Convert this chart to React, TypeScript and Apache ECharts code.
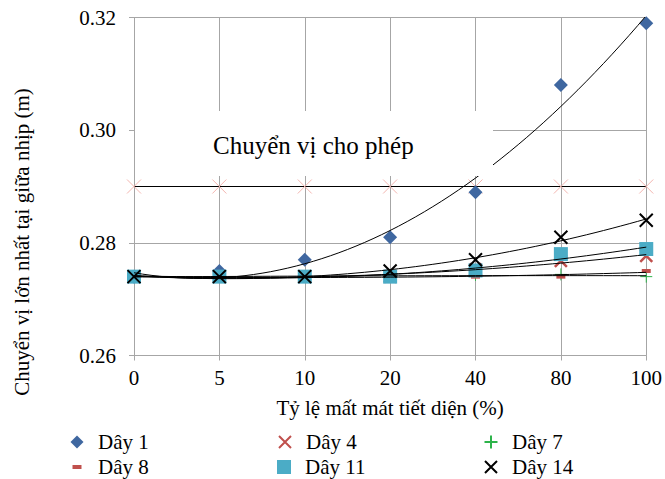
import React, { useEffect, useRef } from 'react';
import * as echarts from 'echarts';

const categories = ['0', '5', '10', '20', '40', '80', '100'];
const day1 = [0.274, 0.275, 0.277, 0.281, 0.289, 0.308, 0.319];
const day4 = [0.274, 0.274, 0.274, 0.274, 0.2753, 0.2768, 0.2777];
const day7 = [0.274, 0.274, 0.274, 0.274, 0.2743, 0.2744, 0.274];
const day8 = [0.274, 0.274, 0.274, 0.274, 0.274, 0.274, 0.275];
const day11 = [0.274, 0.274, 0.274, 0.274, 0.2751, 0.278, 0.2789];
const day14 = [0.274, 0.274, 0.274, 0.275, 0.277, 0.281, 0.284];
const allowable = [0.29, 0.29, 0.29, 0.29, 0.29, 0.29, 0.29];
const allowableLabel = 'Chuyển vị cho phép';
const xTitle = 'Tỷ lệ mất mát tiết diện (%)';
const yTitle = 'Chuyển vị lớn nhất tại giữa nhịp (m)';

const FONT = 'Liberation Serif';
const X_PATH = 'path://M0,0L10,10M10,0L0,10';
const PLUS_PATH = 'path://M5,0L5,10M0,5L10,5';

// least-squares quadratic trendline (as the spreadsheet's polynomial trendline)
function quadFit(ys: number[]) {
  const n = ys.length;
  const S = [0, 0, 0, 0, 0];
  const T = [0, 0, 0];
  for (let i = 0; i < n; i++) {
    for (let k = 0; k < 5; k++) S[k] += Math.pow(i, k);
    for (let k = 0; k < 3; k++) T[k] += ys[i] * Math.pow(i, k);
  }
  const A = [
    [S[0], S[1], S[2], T[0]],
    [S[1], S[2], S[3], T[1]],
    [S[2], S[3], S[4], T[2]],
  ];
  for (let c = 0; c < 3; c++) {
    for (let r = c + 1; r < 3; r++) {
      const f = A[r][c] / A[c][c];
      for (let k = c; k < 4; k++) A[r][k] -= f * A[c][k];
    }
  }
  const coef = [0, 0, 0];
  for (let r = 2; r >= 0; r--) {
    let s = A[r][3];
    for (let k = r + 1; k < 3; k++) s -= A[r][k] * coef[k];
    coef[r] = s / A[r][r];
  }
  const pts: number[][] = [];
  for (let j = 0; j <= 60; j++) {
    const x = j / 10;
    pts.push([x, coef[0] + coef[1] * x + coef[2] * x * x]);
  }
  return pts;
}

const toPts = (ys: number[]) => ys.map((v, i) => [i, v]);

type SeriesDef = { name: string; data: number[]; symbol: string; size: any; legendSize: number; color: string; border: number };
const defs: SeriesDef[] = [
  { name: 'Dây 1', data: day1, symbol: 'diamond', size: 14, legendSize: 13, color: '#3F67A0', border: 0 },
  { name: 'Dây 4', data: day4, symbol: X_PATH, size: 12, legendSize: 12, color: '#C0504D', border: 2.5 },
  { name: 'Dây 7', data: day7, symbol: PLUS_PATH, size: 12, legendSize: 13, color: '#2DB34A', border: 1 },
  { name: 'Dây 8', data: day8, symbol: 'rect', size: [9, 4], legendSize: 9, color: '#C0504D', border: 0 },
  { name: 'Dây 11', data: day11, symbol: 'rect', size: 14, legendSize: 14, color: '#4BACC6', border: 0 },
  { name: 'Dây 14', data: day14, symbol: X_PATH, size: 13, legendSize: 12, color: '#000000', border: 2 },
];

const legendPos = [
  { x: 77, y: 442 },
  { x: 284, y: 442 },
  { x: 490, y: 442 },
  { x: 77, y: 467 },
  { x: 284, y: 467 },
  { x: 490, y: 467 },
];

const serif21 = { fontFamily: FONT, fontSize: 21, color: '#000', fontWeight: 'normal', fontStyle: 'normal' };

export default function App() {
  const ref = useRef<HTMLDivElement>(null);
  useEffect(() => {
    if (!ref.current) return;
    const chart = echarts.init(ref.current, undefined, { renderer: 'svg' });
    const scatterSeries = defs.map((d) => ({
      name: d.name,
      type: 'scatter',
      data: toPts(d.data),
      symbol: d.symbol,
      symbolSize: d.size,
      z: 2,
      itemStyle: {
        color: d.color,
        borderColor: d.color,
        borderWidth: d.border,
        opacity: 1,
      },
    }));
    const trendSeries = defs.map((d) => ({
      name: 'trend ' + d.name,
      type: 'line',
      data: quadFit(d.data),
      showSymbol: false,
      symbol: 'none',
      z: 3,
      silent: true,
      lineStyle: { color: '#000', width: 1 },
    }));
    const option: any = {
      animation: false,
      textStyle: { fontFamily: FONT, color: '#000' },
      grid: { left: 134, top: 17.5, width: 515, height: 338 },
      legend: defs.map((d, i) => {
        const s = d.legendSize;
        return {
          data: [d.name],
          left: legendPos[i].x - s / 2,
          top: legendPos[i].y - 12,
          itemWidth: s,
          itemHeight: d.name === 'Dây 8' ? 4 : s,
          padding: 0,
          textStyle: {
            ...serif21,
            lineHeight: 24,
            padding: [0, 0, 0, 23 - s / 2 - 5 - 2],
          },
          selectedMode: false,
        };
      }),
      xAxis: {
        type: 'value',
        min: 0,
        max: 6,
        interval: 1,
        name: xTitle,
        nameLocation: 'middle',
        nameGap: 42,
        nameTextStyle: serif21,
        axisLine: { show: true, lineStyle: { color: '#a6a6a6', width: 1 } },
        axisTick: { show: true, length: 5, lineStyle: { color: '#a6a6a6' } },
        axisLabel: {
          ...serif21,
          margin: 12,
          formatter: (v: number) => categories[Math.round(v)] ?? '',
        },
        splitLine: { show: true, lineStyle: { color: '#a6a6a6', width: 1 } },
      },
      yAxis: {
        type: 'value',
        min: 0.26,
        max: 0.32,
        interval: 0.02,
        axisLine: { show: true, lineStyle: { color: '#a6a6a6', width: 1 } },
        axisTick: { show: true, length: 5, lineStyle: { color: '#a6a6a6' } },
        axisLabel: {
          ...serif21,
          margin: 18,
          formatter: (v: number) => v.toFixed(2),
        },
        splitLine: { show: true, lineStyle: { color: '#a6a6a6', width: 1 } },
      },
      graphic: [
        {
          type: 'rect',
          z: 10,
          shape: { x: 135, y: 111, width: 358, height: 65 },
          style: { fill: '#ffffff' },
          silent: true,
        },
        {
          type: 'text',
          z: 11,
          x: 213,
          y: 145,
          style: {
            text: allowableLabel,
            fontFamily: FONT,
            fontSize: 25,
            fill: '#000',
            textAlign: 'left',
            textVerticalAlign: 'middle',
          },
        },
        {
          type: 'text',
          z: 11,
          x: 22,
          y: 242,
          rotation: Math.PI / 2,
          style: {
            text: yTitle,
            fontFamily: FONT,
            fontSize: 21,
            fill: '#000',
            textAlign: 'center',
            textVerticalAlign: 'middle',
          },
        },
      ],
      series: [
        {
          name: allowableLabel,
          type: 'line',
          data: toPts(allowable),
          symbol: X_PATH,
          symbolSize: 14,
          showSymbol: true,
          z: 2,
          itemStyle: { color: '#F4B6B0', borderColor: '#F4B6B0', borderWidth: 1 },
          lineStyle: { color: '#000', width: 1 },
        },
        ...scatterSeries,
        ...trendSeries,
      ],
    };
    chart.setOption(option);
    return () => chart.dispose();
  }, []);
  return <div ref={ref} style={{ position: 'absolute', left: 0, top: 0, width: 665, height: 479 }} />;
}
